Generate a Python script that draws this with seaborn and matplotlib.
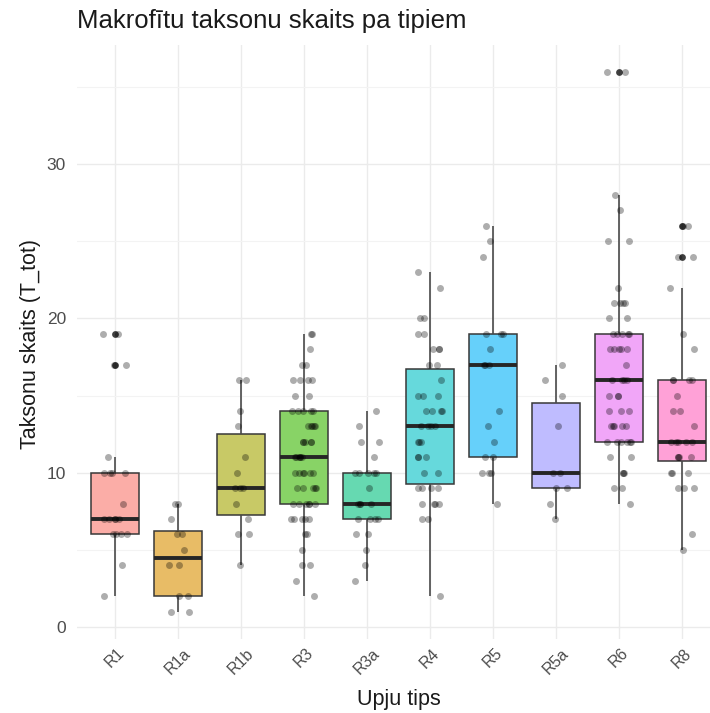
import numpy as np
import pandas as pd
import matplotlib
matplotlib.use("Agg")
import matplotlib.pyplot as plt
import seaborn as sns
from matplotlib.colors import to_rgb

# ---- data (taxon counts per river type) ----
categories = ["R1", "R1a", "R1b", "R3", "R3a", "R4", "R5", "R5a", "R6", "R8"]
r1 = [2, 4, 6, 6, 6, 6, 7, 7, 7, 7, 7, 8, 10, 10, 10, 10, 11, 17, 17, 19, 19]
r1a = [1, 1, 2, 2, 4, 4, 5, 6, 6, 7, 8, 8]
r1b = [4, 6, 6, 7, 8, 9, 9, 9, 10, 11, 13, 14, 16, 16]
r3 = [2, 3, 4, 4, 5, 6, 6, 7, 7, 7, 7, 7, 8, 8, 8, 8, 8, 8, 9, 9, 9, 9, 9,
      10, 10, 10, 10, 10, 10, 11, 11, 11, 11, 11, 11, 12, 12, 12, 12, 12,
      13, 13, 13, 13, 13, 14, 14, 14, 14, 14, 15, 15, 16, 16, 16, 16, 17, 17,
      18, 19, 19]
r3a = [3, 4, 5, 6, 6, 7, 7, 7, 7, 8, 8, 8, 8, 9, 10, 10, 10, 10, 10, 11, 12,
       12, 13, 14]
r4 = [2, 7, 7, 8, 8, 8, 8, 9, 9, 9, 9, 10, 10, 11, 11, 11, 12, 12, 12, 13, 13,
      13, 13, 14, 14, 14, 14, 15, 15, 15, 16, 17, 17, 18, 18, 18, 19, 19, 20,
      20, 22, 23]
r5 = [8, 10, 10, 10, 11, 11, 12, 13, 14, 17, 17, 17, 18, 19, 19, 19, 24, 25, 26]
r5a = [7, 8, 9, 9, 10, 10, 13, 15, 16, 17]
r6 = [8, 9, 9, 10, 10, 10, 11, 11, 12, 12, 12, 12, 12, 12, 13, 13, 13, 13, 13,
      14, 14, 14, 15, 15, 15, 16, 16, 16, 16, 17, 18, 18, 18, 18, 18, 19, 19,
      19, 19, 19, 20, 20, 21, 21, 21, 21, 22, 25, 25, 27, 28, 36, 36]
r8 = [5, 6, 9, 9, 9, 10, 10, 10, 11, 11, 11, 11, 12, 12, 12, 12, 12, 13, 14, 14,
      15, 16, 16, 16, 16, 18, 19, 22, 24, 24, 26, 26]
y_ticks = [0, 10, 20, 30]

groups = [r1, r1a, r1b, r3, r3a, r4, r5, r5a, r6, r8]
df = pd.DataFrame({
    "tips": [c for c, g in zip(categories, groups) for _ in g],
    "T_tot": [v for g in groups for v in g],
})
df["tips"] = pd.Categorical(df["tips"], categories=categories, ordered=True)

# ggplot default hue palette, fill alpha 0.6 blended on white
base_cols = ["#F8766D", "#D89000", "#A3A500", "#39B600", "#00BF7D",
             "#00BFC4", "#00B0F6", "#9590FF", "#E76BF3", "#FF62BC"]
alpha = 0.6
fills = [tuple(alpha * c + (1 - alpha) for c in to_rgb(h)) for h in base_cols]
palette = dict(zip(categories, fills))

FONT = ["Liberation Sans", "DejaVu Sans"]

fig = plt.figure(figsize=(7.10, 7.13), dpi=100)
fig.patch.set_facecolor("white")
ax = fig.add_axes([0.1087, 0.1043, 0.905, 0.8332])
ax.set_facecolor("white")

sns.boxplot(data=df, x="tips", y="T_tot", hue="tips", palette=palette,
            legend=False, width=0.75, saturation=1, linecolor="#383838",
            linewidth=1.1, whis=1.5, showcaps=False, ax=ax, zorder=2,
            whiskerprops={"color": "#4a4a4a", "linewidth": 1.2},
            medianprops={"linewidth": 2.8, "color": "#262626"},
            flierprops={"marker": "o", "markerfacecolor": "black",
                        "markeredgecolor": "none", "alpha": 0.5,
                        "markersize": 4.8})

np.random.seed(7)
sns.stripplot(data=df, x="tips", y="T_tot", color="black", alpha=0.32,
              size=5.0, jitter=0.2, linewidth=0, ax=ax, zorder=3)

ax.set_xlim(-0.6, 9.6)
ax.set_ylim(-0.75, 37.75)
ax.set_yticks(y_ticks)
ax.set_yticks([5, 15, 25, 35], minor=True)
ax.grid(True, which="major", color="#EBEBEB", linewidth=1.0, zorder=0)
ax.grid(True, which="minor", axis="y", color="#F3F3F3", linewidth=0.8, zorder=0)
ax.set_axisbelow(True)
for s in ax.spines.values():
    s.set_visible(False)
ax.tick_params(axis="both", which="both", length=0, labelcolor="#4D4D4D")
ax.tick_params(axis="y", labelsize=12.5, pad=8)
ax.tick_params(axis="x", labelsize=11.5, pad=5)
for lab in ax.get_xticklabels():
    lab.set_rotation(45)
    lab.set_ha("center")
    lab.set_va("top")
ax.set_xlabel("")
ax.set_ylabel("")
for lab in ax.get_xticklabels() + ax.get_yticklabels():
    lab.set_family(FONT)

fig.text(77 / 710, 1 - 21 / 713, "Makrofītu taksonu skaits pa tipiem",
         ha="left", va="center", fontsize=18.5, color="#1A1A1A", family=FONT)
fig.text(399 / 710, 1 - 705 / 713, "Upju tips", ha="center", va="baseline",
         fontsize=15.5, color="#1A1A1A", family=FONT)
fig.text(31 / 710, 1 - 344 / 713, "Taksonu skaits (T_tot)", ha="center",
         va="center", rotation=90, fontsize=15.5, color="#1A1A1A", family=FONT)

fig.savefig("out.png", dpi=100, facecolor="white")
